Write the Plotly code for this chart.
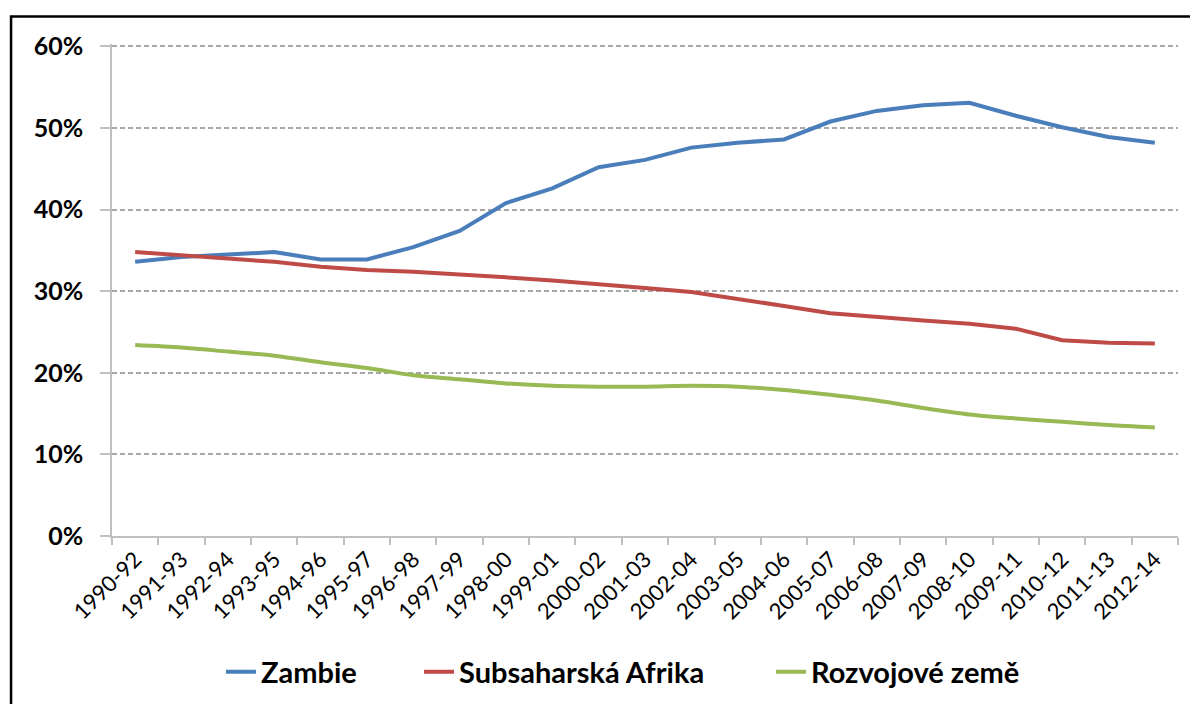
"""Podíl podvyživené populace: Zambie vs. Subsaharská Afrika vs. rozvojové země."""

import plotly.graph_objects as go

periods = [
    "1990-92", "1991-93", "1992-94", "1993-95", "1994-96", "1995-97",
    "1996-98", "1997-99", "1998-00", "1999-01", "2000-02", "2001-03",
    "2002-04", "2003-05", "2004-06", "2005-07", "2006-08", "2007-09",
    "2008-10", "2009-11", "2010-12", "2011-13", "2012-14",
]

zambie = [
    33.6, 34.2, 34.5, 34.8, 33.9, 33.9, 35.4, 37.4, 40.8, 42.6, 45.2, 46.1,
    47.6, 48.2, 48.6, 50.8, 52.1, 52.8, 53.1, 51.5, 50.1, 48.9, 48.2,
]
subsaharska = [
    34.8, 34.4, 34.0, 33.6, 33.0, 32.6, 32.4, 32.1, 31.7, 31.3, 30.9, 30.4,
    29.9, 29.1, 28.2, 27.3, 26.8, 26.4, 26.0, 25.4, 24.0, 23.7, 23.6,
]
rozvojove = [
    23.4, 23.1, 22.6, 22.1, 21.3, 20.6, 19.7, 19.2, 18.7, 18.4, 18.3, 18.3,
    18.4, 18.3, 17.9, 17.3, 16.6, 15.7, 14.9, 14.4, 14.0, 13.6, 13.3,
]

y_ticks = [0, 10, 20, 30, 40, 50, 60]
y_tick_labels = ["0%", "10%", "20%", "30%", "40%", "50%", "60%"]

FONT = "Lato"
GRID = "#A6A6A6"
AXIS = "#BFBFBF"

fig = go.Figure()
fig.add_trace(go.Scatter(
    x=periods, y=zambie, name="Zambie", mode="lines", legend="legend",
    line=dict(color="#4A7EBB", width=4),
))
fig.add_trace(go.Scatter(
    x=periods, y=subsaharska, name="Subsaharská Afrika", mode="lines",
    legend="legend2",
    line=dict(color="#BE4B48", width=4),
))
fig.add_trace(go.Scatter(
    x=periods, y=rozvojove, name="Rozvojové země", mode="lines",
    legend="legend3",
    line=dict(color="#98B954", width=4, shape="spline", smoothing=0.8),
))

# one legend per series so the entries sit where they do in the original
legend_style = dict(
    orientation="h", xanchor="left", y=-0.276, yanchor="middle",
    font=dict(size=29, weight="bold"), bgcolor="rgba(0,0,0,0)",
)

# the html page adds an 8px body margin, so margins are trimmed by 8;
# y range runs a bit past 60 so the top dashed gridline is still drawn
fig.update_layout(
    width=1198,
    height=704,
    margin=dict(l=104, r=28, t=35.55, b=176),
    paper_bgcolor="white",
    plot_bgcolor="white",
    font=dict(family=FONT, color="#000000"),
    showlegend=True,
    legend=dict(legend_style, x=0.1022),
    legend2=dict(legend_style, x=0.288),
    legend3=dict(legend_style, x=0.6182),
    xaxis=dict(
        type="category",
        automargin=False,
        tickangle=-45,
        tickfont=dict(size=22),
        showgrid=False,
        showline=True, linecolor=AXIS, linewidth=1.5,
        ticks="outside", tickson="boundaries", ticklen=7,
        tickcolor=AXIS, tickwidth=1.5,
        range=[-0.5, len(periods) - 0.5],
    ),
    yaxis=dict(
        automargin=False,
        range=[0, 60.3],
        tickvals=y_ticks,
        ticktext=y_tick_labels,
        tickfont=dict(size=25, weight="bold"),
        showgrid=True, gridcolor=GRID, gridwidth=1.5, griddash="5px,3px",
        zeroline=False,
        showline=True, linecolor=AXIS, linewidth=1.5,
        ticks="outside", ticklen=10, tickcolor=AXIS, tickwidth=1.5,
        ticklabelstandoff=12,
    ),
    shapes=[dict(
        type="rect", xref="paper", yref="paper",
        x0=-0.0947, x1=1.03, y0=-0.38, y1=1.056,
        line=dict(color="black", width=2.5),
        fillcolor="rgba(0,0,0,0)",
        layer="above",
    )],
)

fig.write_html("out.html")
